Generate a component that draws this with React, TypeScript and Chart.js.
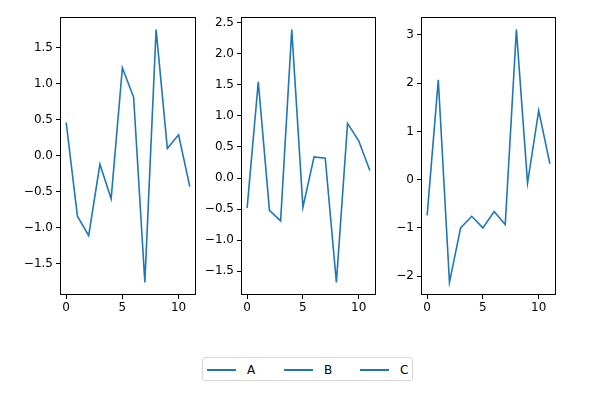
import React, { useEffect, useRef } from "react";
import { Chart, registerables } from "chart.js";

Chart.register(...registerables);

const xValues = [0, 1, 2, 3, 4, 5, 6, 7, 8, 9, 10, 11];
const seriesA = [0.46, -0.84, -1.11, -0.12, -0.6, 1.22, 0.81, -1.76, 1.75, 0.1, 0.29, -0.43];
const seriesB = [-0.48, 1.55, -0.52, -0.69, 2.39, -0.47, 0.34, 0.32, -1.68, 0.88, 0.6, 0.12];
const seriesC = [-0.74, 2.07, -2.13, -1.0, -0.76, -1.0, -0.66, -0.93, 3.11, -0.07, 1.43, 0.33];
const xTicks = [0, 5, 10];
const yTicksA = [-1.5, -1.0, -0.5, 0.0, 0.5, 1.0, 1.5];
const yTicksB = [-1.5, -1.0, -0.5, 0.0, 0.5, 1.0, 1.5, 2.0, 2.5];
const yTicksC = [-2, -1, 0, 1, 2, 3];
const labels = ["A", "B", "C"];

const COLOR = "#1f77b4";
const FONT = "'DejaVu Sans', sans-serif";

const fmt = (v: number, dec: number) => {
  const s = Math.abs(v).toFixed(dec);
  return v < 0 ? "\u2212" + s : s;
};

const framePlugin = {
  id: "frame",
  afterDraw(chart: any) {
    const { ctx, chartArea } = chart;
    ctx.save();
    ctx.strokeStyle = "#000";
    ctx.lineWidth = 1;
    const l = Math.round(chartArea.left) + 0.5;
    const t = Math.round(chartArea.top) + 0.5;
    const r = Math.round(chartArea.right) - 0.5;
    const b = Math.round(chartArea.bottom) - 0.5;
    ctx.strokeRect(l, t, r - l, b - t);
    ctx.restore();
  },
};

function Panel(props: { values: number[]; label: string; axLeft: number; axWidth: number; yTicks: number[]; dec: number }) {
  const ref = useRef<HTMLCanvasElement>(null);
  const gutter = 60;
  const rightPad = 6;
  const W = gutter + props.axWidth + rightPad;
  const H = 320;
  useEffect(() => {
    const mn = Math.min(...props.values);
    const mx = Math.max(...props.values);
    const m = (mx - mn) * 0.05;
    const xmn = Math.min(...xValues);
    const xmx = Math.max(...xValues);
    const xm = (xmx - xmn) * 0.05;
    const chart = new Chart(ref.current!, {
      type: "line",
      data: {
        datasets: [
          {
            label: props.label,
            data: xValues.map((x, i) => ({ x, y: props.values[i] })),
            borderColor: COLOR,
            backgroundColor: COLOR,
            borderWidth: 1.6,
            pointRadius: 0,
            tension: 0,
          },
        ],
      },
      options: {
        animation: false,
        responsive: false,
        maintainAspectRatio: false,
        layout: { padding: { left: 0, top: 17, right: rightPad, bottom: 0 } },
        plugins: { legend: { display: false }, tooltip: { enabled: false } },
        scales: {
          x: {
            type: "linear",
            min: xmn - xm,
            max: xmx + xm,
            afterBuildTicks: (s: any) => {
              s.ticks = xTicks.map((v) => ({ value: v }));
            },
            afterFit: (s: any) => {
              s.height = 25;
            },
            grid: { drawOnChartArea: false, drawTicks: true, tickLength: 4, color: "#000", tickWidth: 1 },
            border: { display: false },
            ticks: {
              color: "#000",
              padding: 2,
              maxRotation: 0,
              font: { family: FONT, size: 12 },
              callback: (v: any) => fmt(Number(v), 0),
            },
          },
          y: {
            type: "linear",
            min: mn - m,
            max: mx + m,
            afterBuildTicks: (s: any) => {
              s.ticks = props.yTicks.map((v) => ({ value: v }));
            },
            afterFit: (s: any) => {
              s.width = gutter;
            },
            grid: { drawOnChartArea: false, drawTicks: true, tickLength: 4, color: "#000", tickWidth: 1 },
            border: { display: false },
            ticks: {
              color: "#000",
              padding: 3,
              font: { family: FONT, size: 12 },
              callback: (v: any) => fmt(Number(v), props.dec),
            },
          },
        },
      },
      plugins: [framePlugin],
    } as any);
    return () => chart.destroy();
  }, []);
  return (
    <canvas
      ref={ref}
      width={W}
      height={H}
      style={{ position: "absolute", left: props.axLeft - gutter, top: 0, width: W, height: H }}
    />
  );
}

function LegendItem(props: { label: string; left: number }) {
  return (
    <div style={{ position: "absolute", left: props.left, top: 0, height: 25, width: 60 }}>
      <div style={{ position: "absolute", left: 0, top: 11, width: 29, height: 2, background: COLOR }} />
      <div
        style={{
          position: "absolute",
          left: 40,
          top: 4,
          fontFamily: FONT,
          fontSize: 12,
          lineHeight: "16px",
          color: "#000",
        }}
      >
        {props.label}
      </div>
    </div>
  );
}

export default function App() {
  return (
    <div style={{ position: "absolute", left: 0, top: 0, width: 589, height: 397, background: "#fff", overflow: "hidden" }}>
      <Panel values={seriesA} label={labels[0]} axLeft={60} axWidth={136} yTicks={yTicksA} dec={1} />
      <Panel values={seriesB} label={labels[1]} axLeft={241} axWidth={135} yTicks={yTicksB} dec={1} />
      <Panel values={seriesC} label={labels[2]} axLeft={421} axWidth={135} yTicks={yTicksC} dec={0} />
      <div
        style={{
          position: "absolute",
          left: 202,
          top: 357,
          width: 211,
          height: 24,
          border: "1px solid #d6d6d6",
          borderRadius: 3,
          boxSizing: "border-box",
        }}
      >
        <LegendItem label={labels[0]} left={4} />
        <LegendItem label={labels[1]} left={81} />
        <LegendItem label={labels[2]} left={157} />
      </div>
    </div>
  );
}
